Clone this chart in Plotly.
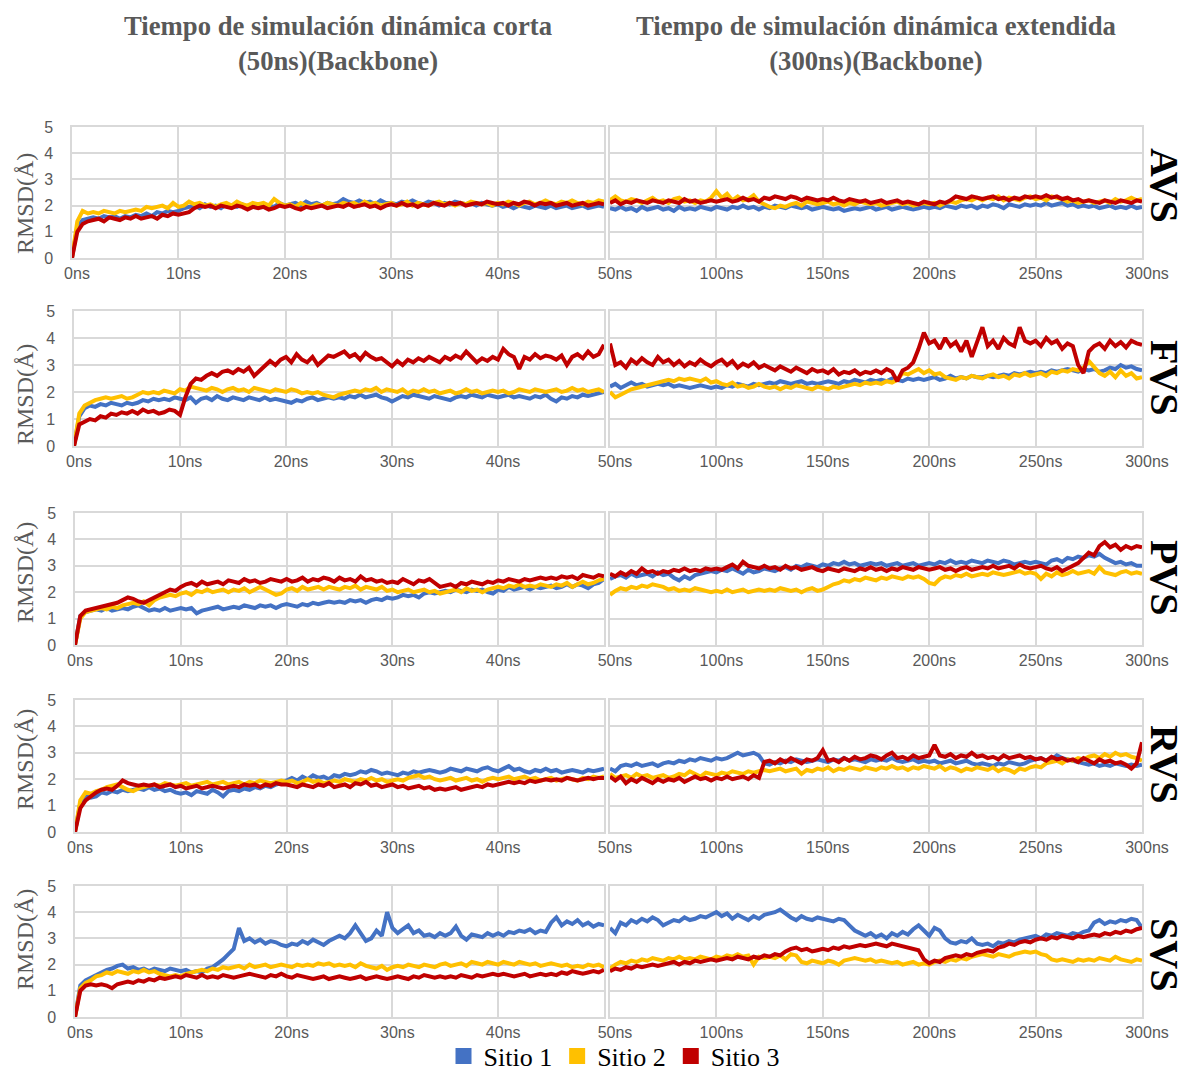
import plotly.graph_objects as go

# ---------------- data ----------------
row_names = ["AVS", "FVS", "PVS", "RVS", "SVS"]
site_names = ["Sitio 1", "Sitio 2", "Sitio 3"]
site_colors = ["#4472C4", "#FFC000", "#C00000"]

short_ticks = [0, 10, 20, 30, 40]
short_ticktext = ["0ns", "10ns", "20ns", "30ns", "40ns"]
long_ticks = [50, 100, 150, 200, 250, 300]
long_ticktext = ["50ns", "100ns", "150ns", "200ns", "250ns", "300ns"]

short_t0, short_dt = 0.0, 0.5     # ns
long_t0, long_dt = 50.0, 2.5      # ns

# ---- AVS ----
avs_short_s1 = [0, 1.2, 1.45, 1.5, 1.55, 1.5, 1.6, 1.55, 1.6, 1.5,
                1.6, 1.55, 1.65, 1.6, 1.7, 1.6, 1.75, 1.7, 1.8, 1.75,
                1.8, 1.9, 1.95, 2.0, 1.9, 2.05, 1.95, 2.0, 1.9, 2.05,
                2.0, 1.95, 2.05, 1.9, 2.0, 1.95, 2.05, 2.0, 1.95, 2.1,
                2.0, 2.05, 2.1, 2.0, 2.15, 2.05, 2.1, 2.0, 2.1, 2.05,
                2.1, 2.25, 2.15, 2.1, 2.2, 2.1, 2.15, 2.05, 2.2, 2.1,
                2.1, 2.05, 2.15, 2.1, 2.2, 2.1, 2.05, 2.15, 2.1, 2.0,
                2.1, 2.05, 2.15, 2.1, 2.05, 2.1, 2.0, 2.1, 2.05, 2.0,
                2.05, 1.95, 2.0, 1.9, 2.0, 1.95, 1.9, 2.0, 1.95, 1.9,
                2.0, 1.9, 1.95, 2.0, 1.9, 1.95, 2.0, 1.9, 1.95, 2.0,
                1.95]
avs_short_s2 = [0, 1.4, 1.8, 1.7, 1.75, 1.7, 1.8, 1.75, 1.7, 1.8,
                1.75, 1.8, 1.85, 1.8, 1.95, 1.9, 1.95, 2.0, 1.9, 2.1,
                1.95, 2.0, 2.15, 2.05, 2.1, 2.0, 2.05, 1.95, 2.05, 2.1,
                2.0, 2.15, 2.05, 2.0, 2.1, 2.05, 2.1, 2.0, 2.25, 2.1,
                2.0, 2.05, 1.95, 2.1, 2.0, 1.95, 2.05, 2.0, 2.1, 2.05,
                2.0, 2.1, 2.05, 2.1, 2.0, 2.15, 2.05, 2.1, 2.0, 2.05,
                2.1, 2.0, 2.05, 2.15, 2.0, 2.1, 2.05, 2.0, 2.1, 2.15,
                2.05, 2.1, 2.0, 2.1, 2.05, 2.15, 2.1, 2.05, 2.1, 2.0,
                2.1, 2.05, 2.15, 2.1, 2.0, 2.1, 2.15, 2.05, 2.1, 2.2,
                2.1, 2.05, 2.15, 2.1, 2.2, 2.1, 2.05, 2.15, 2.1, 2.2,
                2.15]
avs_short_s3 = [0, 1.0, 1.3, 1.4, 1.45, 1.5, 1.4, 1.55, 1.5, 1.45,
                1.55, 1.5, 1.6, 1.5, 1.55, 1.6, 1.5, 1.65, 1.6, 1.7,
                1.65, 1.7, 1.75, 1.9, 2.0, 1.95, 2.0, 1.9, 2.0, 1.95,
                1.9, 2.0, 1.95, 1.85, 1.95, 1.9, 1.95, 1.85, 1.9, 2.0,
                1.95, 2.0, 1.9, 1.85, 1.95, 1.9, 1.95, 2.0, 1.9, 1.95,
                2.0, 1.95, 2.05, 1.95, 2.0, 2.05, 1.95, 2.0, 1.9, 2.0,
                2.05, 2.0, 2.1, 2.0, 2.05, 1.95, 2.05, 2.0, 2.1, 2.05,
                2.0, 2.1, 2.05, 2.1, 2.0, 2.05, 2.1, 2.05, 2.15, 2.1,
                2.05, 2.1, 2.0, 2.1, 2.05, 2.15, 2.1, 2.0, 2.1, 2.05,
                2.1, 2.0, 2.05, 2.1, 2.0, 2.05, 2.1, 2.0, 2.05, 2.1,
                2.05]
avs_long_s1 = [1.9, 1.85, 1.95, 1.85, 1.9, 1.8, 1.95, 1.85, 1.9, 1.95,
               1.85, 1.9, 1.8, 1.95, 1.85, 1.9, 1.85, 1.95, 1.9, 1.85,
               1.95, 1.9, 1.85, 1.95, 1.9, 2.0, 1.9, 1.95, 1.85, 1.95,
               1.9, 2.0, 1.95, 1.9, 2.0, 1.95, 1.9, 1.95, 1.85, 1.9,
               1.95, 1.9, 1.85, 1.9, 1.8, 1.85, 1.9, 1.85, 1.9, 1.95,
               1.85, 1.9, 1.95, 1.85, 1.9, 1.95, 1.9, 1.85, 1.9, 1.95,
               1.9, 1.95, 1.9, 2.0, 1.95, 1.9, 2.0, 1.95, 2.0, 1.9,
               2.0, 1.95, 2.05, 2.0, 1.9, 2.05, 2.0, 1.95, 2.05, 2.0,
               2.05, 2.0, 2.1, 2.0, 2.05, 2.1, 2.0, 2.05, 1.95, 2.0,
               1.95, 2.0, 1.9, 1.95, 2.0, 1.9, 1.95, 1.9, 2.0, 1.9,
               1.95]
avs_long_s2 = [2.2, 2.35, 2.2, 2.15, 2.25, 2.2, 2.1, 2.2, 2.3, 2.15,
               2.2, 2.1, 2.25, 2.3, 2.15, 2.2, 2.1, 2.2, 2.15, 2.3,
               2.55, 2.3, 2.45, 2.2, 2.35, 2.2, 2.25, 2.4, 2.15, 2.05,
               1.95, 1.9, 2.0, 1.95, 2.05, 2.1, 2.0, 2.15, 2.1, 2.05,
               2.1, 2.15, 2.05, 2.1, 2.0, 2.1, 2.05, 2.15, 2.1, 2.05,
               2.1, 2.0, 2.05, 2.1, 2.15, 2.05, 2.1, 2.0, 2.05, 2.1,
               2.05, 2.1, 2.0, 2.1, 2.15, 2.1, 2.2, 2.25, 2.2, 2.3,
               2.2, 2.3, 2.25, 2.35, 2.2, 2.3, 2.25, 2.2, 2.3, 2.35,
               2.25, 2.3, 2.2, 2.35, 2.3, 2.25, 2.15, 2.2, 2.1, 2.15,
               2.2, 2.1, 2.15, 2.2, 2.1, 2.25, 2.15, 2.2, 2.3, 2.2,
               2.25]
avs_long_s3 = [2.1, 2.2, 2.05, 2.15, 2.1, 2.2, 2.15, 2.1, 2.2, 2.15,
               2.1, 2.2, 2.15, 2.1, 2.25, 2.15, 2.2, 2.1, 2.15, 2.2,
               2.15, 2.2, 2.25, 2.15, 2.2, 2.3, 2.2, 2.25, 2.15, 2.3,
               2.25, 2.35, 2.3, 2.25, 2.35, 2.3, 2.2, 2.3, 2.25, 2.2,
               2.25, 2.2, 2.3, 2.2, 2.15, 2.25, 2.2, 2.15, 2.2, 2.1,
               2.15, 2.2, 2.1, 2.15, 2.2, 2.1, 2.15, 2.1, 2.05, 2.15,
               2.1, 2.05, 2.15, 2.1, 2.2, 2.35, 2.3, 2.25, 2.35, 2.3,
               2.25, 2.3, 2.35, 2.25, 2.3, 2.2, 2.3, 2.25, 2.35, 2.3,
               2.35, 2.3, 2.4, 2.3, 2.35, 2.25, 2.3, 2.2, 2.25, 2.15,
               2.2, 2.15, 2.1, 2.2, 2.15, 2.1, 2.2, 2.15, 2.1, 2.2,
               2.15]

# ---- FVS ----
fvs_short_s1 = [0, 1.1, 1.4, 1.5, 1.45, 1.55, 1.5, 1.6, 1.55, 1.5,
                1.6, 1.55, 1.6, 1.7, 1.65, 1.75, 1.7, 1.75, 1.7, 1.8,
                1.75, 1.7, 1.8, 1.6, 1.75, 1.8, 1.7, 1.85, 1.75, 1.7,
                1.8, 1.75, 1.7, 1.8, 1.75, 1.7, 1.8, 1.7, 1.75, 1.7,
                1.65, 1.6, 1.7, 1.65, 1.75, 1.8, 1.7, 1.75, 1.8, 1.75,
                1.8, 1.75, 1.85, 1.8, 1.9, 1.8, 1.85, 1.9, 1.8, 1.75,
                1.65, 1.75, 1.85, 1.8, 1.9, 1.85, 1.8, 1.75, 1.85, 1.8,
                1.75, 1.7, 1.8, 1.85, 1.8, 1.9, 1.85, 1.8, 1.9, 1.85,
                1.8, 1.85, 1.9, 1.8, 1.85, 1.8, 1.75, 1.85, 1.8, 1.9,
                1.75, 1.65, 1.8, 1.75, 1.85, 1.8, 1.9, 1.85, 1.9, 1.95,
                2.0]
fvs_short_s2 = [0, 1.2, 1.5, 1.6, 1.7, 1.75, 1.8, 1.75, 1.8, 1.85,
                1.75, 1.8, 1.9, 2.0, 1.95, 2.0, 1.95, 2.05, 2.0, 1.95,
                2.1, 2.05, 2.2, 2.15, 2.1, 2.05, 2.15, 2.1, 2.0, 2.1,
                2.15, 2.05, 2.1, 2.0, 2.15, 2.1, 2.05, 2.0, 2.1, 2.05,
                2.0, 2.1, 2.05, 1.95, 2.0, 1.95, 2.0, 1.9, 1.85, 1.8,
                1.9, 1.95, 2.0, 2.05, 2.0, 2.1, 2.05, 2.15, 2.0, 2.1,
                2.05, 2.0, 2.1, 1.95, 2.05, 2.0, 2.1, 2.0, 2.05, 1.95,
                2.0, 2.05, 1.95, 2.0, 2.1, 2.0, 2.05, 1.95, 2.0, 2.05,
                2.0, 2.05, 1.95, 2.0, 2.1, 2.05, 2.0, 2.1, 2.05, 2.0,
                2.05, 2.1, 2.0, 2.05, 2.15, 2.05, 2.1, 2.0, 2.05, 2.1,
                2.0]
fvs_short_s3 = [0, 0.8, 0.9, 1.0, 0.95, 1.1, 1.05, 1.2, 1.15, 1.25,
                1.2, 1.3, 1.2, 1.35, 1.25, 1.3, 1.2, 1.25, 1.35, 1.3,
                1.15, 1.8, 2.3, 2.5, 2.45, 2.6, 2.7, 2.6, 2.75, 2.8,
                2.7, 2.85, 2.75, 2.9, 2.6, 2.8, 3.0, 3.15, 3.0, 3.2,
                3.3, 3.1, 3.4, 3.2, 3.1, 3.3, 3.0, 3.2, 3.35, 3.3,
                3.4, 3.5, 3.3, 3.4, 3.2, 3.45, 3.3, 3.2, 3.25, 3.1,
                2.95, 3.15, 3.0, 3.2, 3.1, 3.25, 3.15, 3.3, 3.2, 3.1,
                3.3, 3.2, 3.35, 3.25, 3.5, 3.3, 3.1, 3.25, 3.15, 3.3,
                3.2, 3.6, 3.4, 3.3, 2.85, 3.3, 3.2, 3.4, 3.25, 3.35,
                3.3, 3.2, 3.35, 3.0, 3.3, 3.4, 3.25, 3.5, 3.3, 3.4,
                3.75]
fvs_long_s1 = [2.2, 2.3, 2.15, 2.25, 2.35, 2.25, 2.3, 2.2, 2.25, 2.3,
               2.25, 2.3, 2.2, 2.25, 2.2, 2.15, 2.2, 2.25, 2.2, 2.15,
               2.2, 2.15, 2.25, 2.2, 2.3, 2.25, 2.2, 2.3, 2.25, 2.3,
               2.35, 2.3, 2.4, 2.35, 2.3, 2.35, 2.4, 2.3, 2.35, 2.3,
               2.35, 2.4, 2.35, 2.3, 2.4, 2.35, 2.45, 2.4, 2.35, 2.45,
               2.4, 2.45, 2.4, 2.5, 2.45, 2.4, 2.5, 2.45, 2.5, 2.45,
               2.5, 2.55, 2.45, 2.5, 2.6, 2.5, 2.55, 2.5, 2.6, 2.55,
               2.55, 2.6, 2.55, 2.6, 2.65, 2.6, 2.7, 2.65, 2.7, 2.75,
               2.7, 2.75, 2.7, 2.8, 2.75, 2.8, 2.85, 2.8, 2.75, 2.85,
               2.8, 2.85, 2.75, 2.8, 2.9, 2.85, 3.0, 2.9, 2.95, 2.85,
               2.8]
fvs_long_s2 = [2.0, 1.8, 1.9, 2.0, 2.1, 2.15, 2.2, 2.25, 2.3, 2.35,
               2.4, 2.45, 2.4, 2.5, 2.45, 2.5, 2.45, 2.4, 2.5, 2.35,
               2.4, 2.3, 2.25, 2.35, 2.2, 2.25, 2.15, 2.2, 2.3, 2.2,
               2.15, 2.2, 2.1, 2.2, 2.15, 2.25, 2.2, 2.15, 2.1, 2.2,
               2.15, 2.1, 2.2, 2.15, 2.2, 2.25, 2.3, 2.25, 2.35, 2.3,
               2.35, 2.3, 2.4, 2.35, 2.45, 2.7, 2.65, 2.75, 2.85, 2.7,
               2.8, 2.65, 2.7, 2.55, 2.5, 2.45, 2.55, 2.5, 2.6, 2.55,
               2.5, 2.6, 2.65, 2.55, 2.6, 2.5, 2.65, 2.6, 2.7, 2.6,
               2.65, 2.7, 2.6, 2.75, 2.7, 2.8, 2.75, 2.85, 2.8, 2.9,
               3.15, 2.9, 2.7, 2.6, 2.75, 2.55, 2.8, 2.6, 2.7, 2.5,
               2.55]
fvs_long_s3 = [3.8, 3.0, 3.1, 2.9, 3.2, 3.05, 3.25, 3.1, 3.0, 3.3,
               3.1, 3.2, 3.0, 3.15, 2.95, 3.1, 3.0, 3.2, 3.05, 2.95,
               3.1, 3.2, 3.0, 3.15, 2.9, 3.05, 2.95, 3.1, 2.9, 3.0,
               2.9, 2.8, 2.95, 2.85, 2.75, 2.9, 2.8, 2.7, 2.85, 2.75,
               2.8, 2.7, 2.85, 2.65, 2.75, 2.7, 2.8, 2.65, 2.75, 2.7,
               2.8, 2.7, 2.85, 2.75, 2.4, 2.8, 2.9, 3.1, 3.6, 4.2,
               3.8, 3.9, 3.6, 4.0, 3.7, 3.85, 3.5, 3.9, 3.3, 3.8,
               4.4, 3.7, 3.9, 3.6, 4.0, 3.8, 3.7, 4.4, 3.9, 3.8,
               3.9, 3.7, 4.0, 3.8, 3.9, 3.6, 3.8, 3.7, 3.0, 2.7,
               3.5, 3.7, 3.8, 3.6, 3.9, 3.7, 3.85, 3.65, 3.9, 3.8,
               3.75]

# ---- PVS ----
pvs_short_s1 = [0, 1.1, 1.25, 1.3, 1.35, 1.3, 1.4, 1.3, 1.35, 1.4,
                1.35, 1.45, 1.5, 1.4, 1.3, 1.35, 1.3, 1.4, 1.3, 1.35,
                1.4, 1.35, 1.4, 1.2, 1.3, 1.35, 1.4, 1.45, 1.35, 1.4,
                1.45, 1.4, 1.5, 1.45, 1.4, 1.5, 1.45, 1.5, 1.4, 1.5,
                1.55, 1.5, 1.45, 1.55, 1.5, 1.6, 1.55, 1.6, 1.65, 1.6,
                1.65, 1.6, 1.7, 1.65, 1.7, 1.6, 1.7, 1.75, 1.7, 1.8,
                1.75, 1.8, 1.9, 1.85, 1.9, 1.8, 1.95, 2.0, 1.95, 2.0,
                2.05, 2.0, 2.1, 2.05, 2.0, 2.1, 2.05, 2.1, 2.0, 1.95,
                2.1, 2.05, 2.2, 2.1, 2.15, 2.2, 2.1, 2.2, 2.15, 2.2,
                2.25, 2.15, 2.2, 2.3, 2.2, 2.3, 2.25, 2.15, 2.3, 2.35,
                2.5]
pvs_short_s2 = [0, 1.0, 1.25, 1.3, 1.35, 1.4, 1.35, 1.45, 1.4, 1.5,
                1.55, 1.6, 1.55, 1.65, 1.5, 1.7, 1.8, 1.85, 1.9, 1.85,
                1.95, 2.0, 1.9, 2.05, 2.0, 2.1, 2.0, 2.05, 2.1, 2.0,
                2.1, 2.05, 2.15, 2.0, 2.1, 2.2, 2.1, 2.0, 1.9, 1.95,
                2.1, 2.15, 2.05, 2.2, 2.1, 2.15, 2.2, 2.1, 2.2, 2.15,
                2.1, 2.2, 2.15, 2.25, 2.1, 2.2, 2.15, 2.1, 2.2, 2.05,
                2.1, 2.0, 2.05, 2.1, 2.0, 2.05, 2.1, 2.0, 2.05, 1.95,
                2.0, 2.05, 2.1, 2.0, 2.15, 2.05, 2.1, 2.0, 2.1, 2.15,
                2.2, 2.15, 2.25, 2.2, 2.3, 2.2, 2.25, 2.2, 2.3, 2.25,
                2.2, 2.3, 2.25, 2.35, 2.2, 2.3, 2.4, 2.3, 2.35, 2.45,
                2.5]
pvs_short_s3 = [0, 1.1, 1.3, 1.35, 1.4, 1.45, 1.5, 1.55, 1.6, 1.7,
                1.8, 1.75, 1.65, 1.6, 1.7, 1.8, 1.9, 2.0, 2.1, 2.05,
                2.2, 2.3, 2.35, 2.25, 2.4, 2.3, 2.35, 2.4, 2.3, 2.45,
                2.4, 2.35, 2.5, 2.4, 2.45, 2.35, 2.4, 2.5, 2.45, 2.4,
                2.5, 2.4, 2.45, 2.55, 2.4, 2.5, 2.45, 2.55, 2.5, 2.4,
                2.55, 2.45, 2.5, 2.4, 2.6, 2.45, 2.5, 2.4, 2.45, 2.35,
                2.4, 2.35, 2.5, 2.4, 2.3, 2.45, 2.4, 2.5, 2.35, 2.2,
                2.25, 2.3, 2.2, 2.35, 2.3, 2.4, 2.35, 2.3, 2.4, 2.35,
                2.45, 2.4, 2.5, 2.45, 2.4, 2.5, 2.45, 2.5, 2.55, 2.5,
                2.55, 2.5, 2.6, 2.55, 2.6, 2.5, 2.65, 2.6, 2.55, 2.65,
                2.6]
pvs_long_s1 = [2.5, 2.6, 2.65, 2.55, 2.7, 2.6, 2.65, 2.7, 2.6, 2.75,
               2.65, 2.7, 2.55, 2.45, 2.6, 2.5, 2.65, 2.7, 2.75, 2.8,
               2.75, 2.85, 2.8, 2.9, 2.8, 2.7, 2.85, 2.75, 2.8, 2.9,
               2.85, 2.8, 2.9, 2.95, 2.85, 3.0, 2.95, 3.05, 3.0, 2.95,
               3.05, 3.0, 3.1, 3.05, 3.15, 3.05, 3.1, 3.0, 3.05, 3.1,
               3.05, 3.1, 3.0, 3.05, 3.1, 3.0, 3.05, 3.1, 3.0, 3.05,
               3.1, 3.05, 3.15, 3.1, 3.2, 3.1, 3.15, 3.1, 3.2, 3.15,
               3.1, 3.2, 3.15, 3.1, 3.2, 3.15, 3.05, 3.1, 3.15, 3.1,
               3.15, 3.1, 3.05, 3.2, 3.25, 3.15, 3.3, 3.25, 3.35, 3.3,
               3.4, 3.35, 3.45, 3.3, 3.2, 3.1, 3.15, 3.05, 3.1, 3.0,
               3.0]
pvs_long_s2 = [1.9, 2.05, 2.15, 2.1, 2.2, 2.15, 2.25, 2.2, 2.3, 2.25,
               2.2, 2.1, 2.15, 2.05, 2.1, 2.05, 2.15, 2.1, 2.05, 2.0,
               2.05, 2.0, 2.1, 2.0, 2.05, 2.1, 2.0, 2.05, 2.1, 2.05,
               2.1, 2.05, 2.15, 2.1, 2.05, 2.1, 2.0, 2.1, 2.15, 2.05,
               2.1, 2.2, 2.3, 2.35, 2.45, 2.4, 2.5, 2.45, 2.55, 2.5,
               2.45, 2.55, 2.5, 2.6, 2.55, 2.5, 2.6, 2.55, 2.6, 2.5,
               2.35, 2.3, 2.5, 2.6, 2.55, 2.65, 2.6, 2.7, 2.6, 2.65,
               2.7, 2.65, 2.75, 2.7, 2.65, 2.7, 2.75, 2.8, 2.7, 2.75,
               2.7, 2.5, 2.7, 2.6, 2.75, 2.65, 2.7, 2.8, 2.7, 2.75,
               2.8, 2.7, 2.95, 2.75, 2.7, 2.65, 2.75, 2.8, 2.7, 2.75,
               2.7]
pvs_long_s3 = [2.7, 2.6, 2.75, 2.65, 2.8, 2.7, 2.9, 2.75, 2.8, 2.7,
               2.8, 2.75, 2.85, 2.8, 2.9, 2.8, 2.85, 2.8, 2.9, 2.85,
               2.9, 2.85, 2.95, 3.05, 2.9, 3.15, 3.0, 2.95, 2.9, 3.0,
               2.9, 2.95, 2.85, 3.0, 2.9, 2.95, 2.85, 2.9, 2.95, 2.85,
               2.8, 2.9, 2.85, 2.8, 2.9, 2.85, 2.8, 2.9, 2.85, 2.95,
               2.85, 2.9, 2.8, 2.9, 2.85, 2.95, 2.9, 2.85, 2.95, 2.9,
               2.85, 2.9, 2.95, 2.85, 2.9, 2.8, 2.9, 2.95, 2.85, 2.9,
               2.95, 2.9, 3.0, 2.9, 2.95, 3.0, 2.9, 3.05, 2.95, 2.9,
               2.95, 3.0, 2.9, 2.85, 2.95, 2.8, 2.9, 3.0, 3.1, 3.3,
               3.5, 3.4, 3.75, 3.9, 3.7, 3.8, 3.6, 3.75, 3.65, 3.75,
               3.7]

# ---- RVS ----
rvs_short_s1 = [0, 1.1, 1.4, 1.3, 1.35, 1.5, 1.45, 1.55, 1.5, 1.6,
                1.55, 1.6, 1.65, 1.6, 1.7, 1.6, 1.65, 1.55, 1.6, 1.5,
                1.45, 1.5, 1.4, 1.55, 1.5, 1.45, 1.6, 1.5, 1.35, 1.55,
                1.6, 1.55, 1.65, 1.6, 1.7, 1.65, 1.75, 1.7, 1.8, 1.85,
                1.95, 2.05, 1.95, 2.1, 2.0, 2.15, 2.05, 2.1, 2.0, 2.15,
                2.1, 2.2, 2.15, 2.2, 2.3, 2.25, 2.35, 2.3, 2.2, 2.25,
                2.2, 2.15, 2.25, 2.2, 2.3, 2.25, 2.3, 2.35, 2.3, 2.25,
                2.3, 2.4, 2.35, 2.3, 2.4, 2.35, 2.3, 2.4, 2.45, 2.35,
                2.3, 2.4, 2.5, 2.35, 2.4, 2.3, 2.25, 2.35, 2.3, 2.4,
                2.3, 2.35, 2.25, 2.3, 2.35, 2.3, 2.25, 2.35, 2.3, 2.35,
                2.4]
rvs_short_s2 = [0, 1.2, 1.5, 1.45, 1.55, 1.6, 1.7, 1.75, 1.8, 1.7,
                1.6, 1.55, 1.65, 1.7, 1.75, 1.8, 1.75, 1.85, 1.8, 1.75,
                1.8, 1.85, 1.75, 1.8, 1.85, 1.9, 1.8, 1.85, 1.9, 1.8,
                1.85, 1.9, 1.8, 1.9, 1.85, 1.95, 1.9, 1.85, 1.9, 1.95,
                1.9, 1.95, 1.85, 1.9, 2.0, 1.9, 1.95, 1.85, 1.9, 1.95,
                1.9, 2.0, 1.95, 1.9, 2.0, 1.95, 2.05, 1.95, 2.0, 1.9,
                1.95, 2.0, 1.95, 2.05, 2.1, 2.15, 2.05, 2.1, 2.0, 1.95,
                2.0, 2.05, 1.95, 2.0, 2.05, 1.95, 2.0, 1.9, 2.0, 2.05,
                2.0, 2.05, 2.1, 2.0, 2.05, 2.1, 2.0, 2.05, 1.95, 2.0,
                2.05, 1.95, 2.0, 2.05, 2.0, 1.95, 2.05, 2.0, 2.1, 2.05,
                2.1]
rvs_short_s3 = [0, 0.9, 1.2, 1.35, 1.5, 1.6, 1.65, 1.6, 1.75, 1.95,
                1.85, 1.8, 1.75, 1.8, 1.75, 1.8, 1.7, 1.75, 1.8, 1.7,
                1.75, 1.65, 1.7, 1.75, 1.65, 1.7, 1.75, 1.7, 1.65, 1.7,
                1.75, 1.7, 1.8, 1.75, 1.8, 1.7, 1.8, 1.75, 1.85, 1.8,
                1.8, 1.75, 1.7, 1.8, 1.75, 1.7, 1.8, 1.75, 1.85, 1.7,
                1.75, 1.8, 1.7, 1.85, 1.8, 1.9, 1.75, 1.8, 1.7, 1.75,
                1.8, 1.7, 1.75, 1.65, 1.7, 1.75, 1.65, 1.7, 1.6, 1.65,
                1.6, 1.65, 1.7, 1.6, 1.65, 1.7, 1.75, 1.7, 1.8, 1.75,
                1.8, 1.85, 1.9, 1.85, 1.9, 1.85, 1.95, 1.9, 1.95, 2.0,
                1.95, 2.0, 1.95, 2.05, 2.0, 1.95, 2.0, 2.05, 2.0, 2.05,
                2.05]
rvs_long_s1 = [2.4, 2.3, 2.5, 2.55, 2.5, 2.6, 2.5, 2.55, 2.6, 2.5,
               2.6, 2.65, 2.6, 2.7, 2.65, 2.75, 2.7, 2.8, 2.75, 2.7,
               2.8, 2.75, 2.8, 2.9, 3.0, 2.9, 2.95, 3.0, 2.9, 2.6,
               2.55, 2.65, 2.6, 2.7, 2.65, 2.75, 2.7, 2.65, 2.7, 2.75,
               2.7, 2.65, 2.75, 2.7, 2.8, 2.7, 2.75, 2.7, 2.65, 2.75,
               2.7, 2.75, 2.7, 2.8, 2.7, 2.65, 2.7, 2.75, 2.65, 2.7,
               2.65, 2.7, 2.6, 2.65, 2.7, 2.6, 2.65, 2.7, 2.6, 2.55,
               2.6, 2.55, 2.5, 2.6, 2.55, 2.65, 2.6, 2.55, 2.6, 2.7,
               2.75, 2.8, 2.7, 2.75, 2.9, 2.8, 2.75, 2.7, 2.65, 2.6,
               2.55, 2.6, 2.5, 2.55, 2.5, 2.6, 2.55, 2.5, 2.55, 2.5,
               2.55]
rvs_long_s2 = [2.2, 2.05, 2.1, 2.15, 2.05, 2.2, 2.1, 2.15, 2.05, 2.1,
               2.15, 2.05, 2.1, 2.2, 2.15, 2.3, 2.2, 2.1, 2.25, 2.2,
               2.15, 2.25, 2.2, 2.3, 2.25, 2.2, 2.3, 2.25, 2.3, 2.35,
               2.3, 2.35, 2.4, 2.3, 2.35, 2.4, 2.2, 2.35, 2.3, 2.4,
               2.35, 2.45, 2.3, 2.4, 2.35, 2.45, 2.4, 2.35, 2.45, 2.4,
               2.35, 2.45, 2.4, 2.5, 2.4, 2.45, 2.35, 2.45, 2.4, 2.5,
               2.45, 2.4, 2.5, 2.35, 2.45, 2.4, 2.3, 2.4, 2.35, 2.45,
               2.4, 2.35, 2.45, 2.3, 2.4, 2.35, 2.25, 2.4, 2.35, 2.45,
               2.5, 2.45, 2.6, 2.65, 2.7, 2.6, 2.75, 2.7, 2.8, 2.75,
               2.85, 2.9, 2.8, 2.95, 2.85, 3.0, 2.9, 2.95, 2.85, 2.8,
               2.7]
rvs_long_s3 = [2.1, 1.95, 2.1, 1.85, 2.0, 1.9, 2.05, 1.95, 1.85, 2.0,
               1.9, 2.0, 1.95, 2.05, 1.9, 2.0, 2.1, 2.0, 2.05, 1.95,
               2.05, 2.0, 2.1, 2.0, 2.05, 2.1, 2.0, 2.15, 2.05, 2.65,
               2.7, 2.6, 2.75, 2.65, 2.8, 2.7, 2.6, 2.75, 2.7, 2.8,
               3.1, 2.7, 2.75, 2.65, 2.8, 2.7, 2.85, 2.75, 2.8, 2.9,
               2.85, 2.75, 2.9, 3.0, 2.8, 2.85, 2.75, 2.9, 2.8, 2.85,
               2.9, 3.3, 2.9, 2.85, 2.95, 2.8, 2.9, 2.85, 3.0, 2.85,
               2.9, 2.8, 2.85, 2.75, 2.9, 2.8, 2.85, 2.9, 2.8, 2.85,
               2.75, 2.8, 2.7, 2.85, 2.75, 2.8, 2.7, 2.75, 2.65, 2.8,
               2.7, 2.6, 2.75, 2.65, 2.7, 2.6, 2.65, 2.55, 2.4, 2.6,
               3.4]

# ---- SVS ----
svs_short_s1 = [0, 1.2, 1.4, 1.5, 1.6, 1.7, 1.8, 1.85, 1.95, 2.0,
                1.85, 1.9, 1.8, 1.85, 1.75, 1.85, 1.8, 1.75, 1.85, 1.8,
                1.75, 1.8, 1.7, 1.75, 1.7, 1.85, 1.9, 2.05, 2.2, 2.4,
                2.6, 3.4, 2.9, 3.0, 2.85, 2.95, 2.8, 2.9, 2.85, 2.75,
                2.7, 2.8, 2.75, 2.9, 2.8, 2.95, 2.85, 2.75, 2.9, 3.0,
                3.1, 3.0, 3.2, 3.5, 3.2, 2.9, 3.0, 3.3, 3.1, 4.0,
                3.4, 3.2, 3.35, 3.5, 3.2, 3.3, 3.1, 3.15, 3.05, 3.2,
                3.1, 3.2, 3.45, 3.1, 2.95, 3.15, 3.1, 3.05, 3.2, 3.1,
                3.2, 3.1, 3.25, 3.2, 3.3, 3.25, 3.35, 3.2, 3.3, 3.25,
                3.6, 3.8, 3.5, 3.65, 3.55, 3.7, 3.5, 3.6, 3.45, 3.55,
                3.5]
svs_short_s2 = [0, 1.1, 1.3, 1.4, 1.55, 1.6, 1.7, 1.65, 1.75, 1.7,
                1.65, 1.75, 1.7, 1.8, 1.7, 1.75, 1.65, 1.6, 1.55, 1.6,
                1.55, 1.65, 1.7, 1.75, 1.8, 1.75, 1.85, 1.8, 1.9, 1.85,
                1.9, 1.95, 1.85, 2.0, 1.9, 1.95, 2.0, 1.9, 1.95, 2.0,
                1.95, 1.9, 2.0, 1.95, 2.0, 1.95, 2.05, 2.0, 2.05, 1.95,
                2.0, 1.95, 2.0, 1.9, 2.05, 1.95, 1.9, 1.85, 1.95, 1.8,
                1.9, 1.95, 1.9, 2.0, 1.95, 1.9, 2.0, 1.95, 1.9, 2.0,
                2.05, 1.95, 2.0, 2.05, 1.95, 2.1, 2.05, 2.0, 2.1, 2.05,
                2.0, 2.1, 2.05, 2.0, 2.1, 2.05, 2.0, 2.05, 1.95, 2.0,
                2.05, 2.0, 1.95, 2.0, 1.9, 1.95, 1.9, 2.0, 1.95, 2.0,
                1.9]
svs_short_s3 = [0, 1.0, 1.2, 1.25, 1.2, 1.25, 1.2, 1.1, 1.25, 1.3,
                1.35, 1.3, 1.4, 1.35, 1.45, 1.4, 1.5, 1.45, 1.5, 1.55,
                1.5, 1.6, 1.55, 1.5, 1.6, 1.5, 1.55, 1.5, 1.6, 1.55,
                1.5, 1.55, 1.6, 1.65, 1.6, 1.55, 1.5, 1.6, 1.55, 1.65,
                1.55, 1.5, 1.6, 1.55, 1.5, 1.45, 1.5, 1.55, 1.45, 1.5,
                1.55, 1.5, 1.45, 1.5, 1.55, 1.45, 1.5, 1.55, 1.5, 1.45,
                1.5, 1.55, 1.5, 1.45, 1.55, 1.5, 1.6, 1.55, 1.5, 1.55,
                1.5, 1.55, 1.5, 1.6, 1.55, 1.5, 1.6, 1.55, 1.6, 1.65,
                1.6, 1.65, 1.6, 1.55, 1.6, 1.65, 1.55, 1.6, 1.65, 1.6,
                1.65, 1.6, 1.7, 1.65, 1.75, 1.7, 1.65, 1.7, 1.75, 1.7,
                1.8]
svs_long_s1 = [3.4, 3.2, 3.6, 3.5, 3.7, 3.6, 3.75, 3.65, 3.8, 3.7,
               3.5, 3.6, 3.7, 3.65, 3.8, 3.7, 3.75, 3.85, 3.8, 3.9,
               4.0, 3.85, 3.95, 3.75, 3.9, 3.8, 3.7, 3.85, 3.75, 3.9,
               3.95, 4.0, 4.1, 3.95, 3.8, 3.7, 3.85, 3.75, 3.7, 3.8,
               3.75, 3.7, 3.65, 3.75, 3.7, 3.5, 3.3, 3.2, 3.1, 3.2,
               3.05, 3.15, 3.0, 3.2, 3.1, 3.25, 3.15, 3.35, 3.5, 3.3,
               3.1, 3.4, 3.3, 3.0, 2.85, 2.8, 2.9, 2.85, 3.0, 2.8,
               2.75, 2.8, 2.7, 2.85, 2.8, 2.9, 2.85, 2.95, 3.0, 3.05,
               3.1, 3.0, 3.15, 3.1, 3.2, 3.15, 3.1, 3.2, 3.15, 3.25,
               3.3, 3.6, 3.7, 3.55, 3.65, 3.6, 3.7, 3.65, 3.75, 3.7,
               3.4]
svs_long_s2 = [1.85, 2.0, 2.1, 2.05, 2.15, 2.1, 2.2, 2.15, 2.25, 2.2,
               2.15, 2.25, 2.2, 2.3, 2.2, 2.25, 2.2, 2.3, 2.25, 2.2,
               2.3, 2.25, 2.35, 2.3, 2.4, 2.3, 2.35, 2.0, 2.3, 2.25,
               2.3, 2.25, 2.35, 2.2, 2.4, 2.35, 2.1, 2.05, 2.15, 2.1,
               2.05, 2.15, 2.1, 2.0, 2.15, 2.2, 2.25, 2.2, 2.15, 2.2,
               2.1, 2.15, 2.1, 2.05, 2.1, 2.0, 2.05, 2.1, 2.0, 2.05,
               2.0, 2.1, 2.15, 2.1, 2.2, 2.15, 2.25, 2.2, 2.3, 2.35,
               2.4, 2.35, 2.3, 2.4, 2.35, 2.3, 2.4, 2.45, 2.5, 2.45,
               2.5, 2.4, 2.35, 2.2, 2.15, 2.2, 2.15, 2.1, 2.2, 2.15,
               2.2, 2.15, 2.25, 2.2, 2.15, 2.3, 2.2, 2.15, 2.1, 2.2,
               2.15]
svs_long_s3 = [1.75, 1.85, 1.8, 1.9, 1.85, 1.95, 1.9, 1.95, 2.0, 1.95,
               2.0, 2.05, 2.1, 2.0, 2.1, 2.05, 2.15, 2.1, 2.15, 2.2,
               2.15, 2.2, 2.25, 2.2, 2.3, 2.25, 2.2, 2.3, 2.25, 2.35,
               2.3, 2.4, 2.35, 2.5, 2.6, 2.65, 2.55, 2.6, 2.5, 2.55,
               2.6, 2.55, 2.65, 2.6, 2.7, 2.65, 2.7, 2.75, 2.7, 2.75,
               2.8, 2.75, 2.7, 2.8, 2.75, 2.7, 2.65, 2.6, 2.55, 2.2,
               2.05, 2.15, 2.1, 2.25, 2.3, 2.35, 2.3, 2.4, 2.35, 2.45,
               2.5, 2.55, 2.5, 2.65, 2.7, 2.8, 2.75, 2.85, 2.9, 2.85,
               2.95, 3.0, 2.95, 3.05, 3.0, 3.1, 3.05, 3.0, 3.1, 3.05,
               3.1, 3.15, 3.1, 3.2, 3.15, 3.25, 3.2, 3.3, 3.25, 3.35,
               3.4]

short_series = {
    "AVS": [avs_short_s1, avs_short_s2, avs_short_s3],
    "FVS": [fvs_short_s1, fvs_short_s2, fvs_short_s3],
    "PVS": [pvs_short_s1, pvs_short_s2, pvs_short_s3],
    "RVS": [rvs_short_s1, rvs_short_s2, rvs_short_s3],
    "SVS": [svs_short_s1, svs_short_s2, svs_short_s3],
}
long_series = {
    "AVS": [avs_long_s1, avs_long_s2, avs_long_s3],
    "FVS": [fvs_long_s1, fvs_long_s2, fvs_long_s3],
    "PVS": [pvs_long_s1, pvs_long_s2, pvs_long_s3],
    "RVS": [rvs_long_s1, rvs_long_s2, rvs_long_s3],
    "SVS": [svs_long_s1, svs_long_s2, svs_long_s3],
}

# ---------------- layout geometry (screen pixels) ----------------
PAGE_W, PAGE_H = 1196, 1082
OFF = 8                       # default page margin around the figure
FW, FH = PAGE_W - 2 * OFF, PAGE_H - 2 * OFF


def px(xs):
    return (xs - OFF) / FW


def py(ys):
    return 1 - (ys - OFF) / FH


row_px = [(127, 258), (311, 446), (513, 645), (700, 832), (886, 1017)]
left_x0 = [72, 74, 75, 75, 75]
left_x1 = 604
right_x0, right_x1 = 610, 1142
ytitle_y = [204, 395, 573, 760, 940]
rowlabel_y = [185, 378, 578, 764, 954]

GRID = "#D9D9D9"
TICKC = "#595959"
TICKFONT = dict(family="Liberation Sans Narrow, Arial Narrow, Liberation Sans, Arial", size=16, color=TICKC)
SERIF = "Liberation Serif, Times New Roman, serif"

fig = go.Figure()
layout = {}
annotations = []

for r, rname in enumerate(row_names):
    top, bot = row_px[r]
    ydom = [py(bot), py(top)]
    for c in range(2):
        k = r * 2 + c + 1
        xs = "x" if k == 1 else f"x{k}"
        ys = "y" if k == 1 else f"y{k}"
        if c == 0:
            vals_list = short_series[rname]
            t0, dt = short_t0, short_dt
            xr = [0, 50]
            tv, tt = short_ticks, short_ticktext
            xdom = [px(left_x0[r]), px(left_x1)]
        else:
            vals_list = long_series[rname]
            t0, dt = long_t0, long_dt
            xr = [50, 300]
            tv, tt = long_ticks, long_ticktext
            xdom = [px(right_x0), px(right_x1)]
        for j, vals in enumerate(vals_list):
            fig.add_trace(go.Scatter(
                x=[t0 + i * dt for i in range(len(vals))], y=vals,
                mode="lines", line=dict(color=site_colors[j], width=4),
                xaxis=xs, yaxis=ys, showlegend=False, hoverinfo="skip"))
        kx = "" if k == 1 else str(k)
        layout[f"xaxis{kx}"] = dict(
            domain=xdom, range=xr, anchor=ys, tickmode="array",
            tickvals=tv, ticktext=tt, showgrid=True, gridcolor=GRID, gridwidth=1.5,
            showline=True, mirror=True, linecolor=GRID, linewidth=1.5,
            zeroline=False, ticks="", tickfont=TICKFONT, ticklabelshift=5,
            automargin=False, fixedrange=True)
        layout[f"yaxis{kx}"] = dict(
            domain=ydom, range=[0, 5], anchor=xs, tickmode="array",
            tickvals=[0, 1, 2, 3, 4, 5], showticklabels=(c == 0),
            showgrid=True, gridcolor=GRID, gridwidth=1.5,
            showline=True, mirror=True, linecolor=GRID, linewidth=1.5,
            zeroline=False, ticks="", tickfont=TICKFONT, ticklabelstandoff=14,
            automargin=False, fixedrange=True)
    # y-axis title
    annotations.append(dict(
        x=px(25), y=py(ytitle_y[r]), xref="paper", yref="paper",
        xanchor="center", yanchor="middle",
        text="RMSD(Å)", textangle=-90, showarrow=False,
        font=dict(family=SERIF, size=24, color=TICKC)))
    # row label
    annotations.append(dict(
        x=px(1165), y=py(rowlabel_y[r]), xref="paper", yref="paper",
        xanchor="center", yanchor="middle",
        text=f"<b>{rname}</b>", textangle=90, showarrow=False,
        font=dict(family=SERIF, size=40, color="#000000")))

# column titles
annotations.append(dict(
    x=px(338), y=py(44), xref="paper", yref="paper", showarrow=False,
    xanchor="center", yanchor="middle",
    text="<b>Tiempo de simulación dinámica corta<br>(50ns)(Backbone)</b>",
    font=dict(family=SERIF, size=26.7, color=TICKC)))
annotations.append(dict(
    x=px(876), y=py(44), xref="paper", yref="paper", showarrow=False,
    xanchor="center", yanchor="middle",
    text="<b>Tiempo de simulación dinámica extendida<br>(300ns)(Backbone)</b>",
    font=dict(family=SERIF, size=26.7, color=TICKC)))

# legend entries
for j, sname in enumerate(site_names):
    fig.add_trace(go.Scatter(
        x=[None], y=[None], mode="markers", name=sname,
        marker=dict(symbol="square", size=16, color=site_colors[j]),
        xaxis="x", yaxis="y", showlegend=True))

fig.update_layout(
    width=FW, height=FH, margin=dict(l=0, r=0, t=0, b=0, autoexpand=False),
    paper_bgcolor="white", plot_bgcolor="white",
    annotations=annotations,
    legend=dict(orientation="h", x=px(614), xanchor="center",
                y=py(1056), yanchor="middle",
                font=dict(family=SERIF, size=26, color="#000000"),
                itemclick=False, itemdoubleclick=False, bgcolor="rgba(0,0,0,0)"),
    **layout)

fig.write_html("out.html")
